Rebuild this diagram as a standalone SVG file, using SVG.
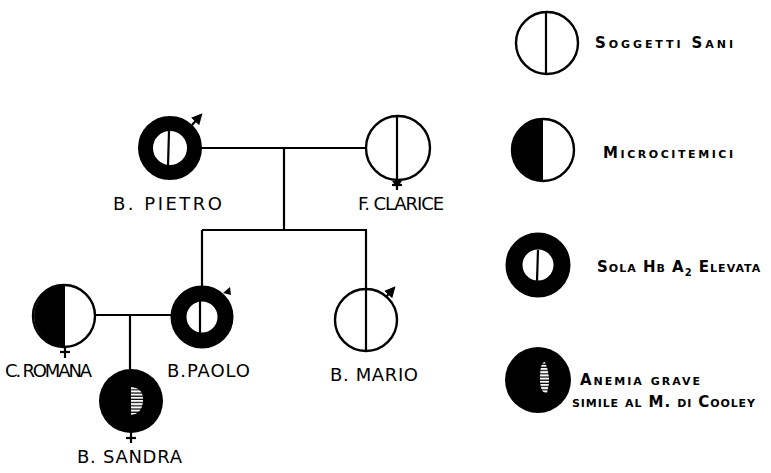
<svg xmlns="http://www.w3.org/2000/svg" width="771" height="473" viewBox="0 0 771 473">
<defs>
<style>
.ln{stroke:#000;stroke-width:2.2;fill:none}
.c{stroke:#000;stroke-width:2.4;fill:#fff}
.ring{stroke:#000;fill:#fff}
.blk{fill:#000}
.lbl{font-family:"DejaVu Sans","Liberation Sans",sans-serif;font-size:18px;fill:#000}
.leg{font-family:"DejaVu Sans","Liberation Sans",sans-serif;font-size:15px;font-weight:bold;fill:#000;font-variant:small-caps}
</style>
<marker id="ah" viewBox="0 0 10 10" refX="8" refY="5" markerWidth="5" markerHeight="5" orient="auto"><path d="M0,0 L10,5 L0,10 z" fill="#000"/></marker>
<pattern id="hatch" width="6" height="3.2" patternUnits="userSpaceOnUse"><rect width="6" height="3.2" fill="#fff"/><rect y="2" width="6" height="1.2" fill="#000"/></pattern>
</defs>
<rect width="771" height="473" fill="#fff"/>
<g id="connectors">
<line class="ln" x1="200" y1="148" x2="367" y2="148"/>
<line class="ln" x1="284" y1="148" x2="284" y2="230"/>
<line class="ln" x1="202" y1="230" x2="367" y2="230"/>
<line class="ln" x1="202" y1="230" x2="202" y2="287"/>
<line class="ln" x1="366" y1="230" x2="366" y2="290"/>
<line class="ln" x1="95" y1="315" x2="172" y2="315"/>
<line class="ln" x1="130" y1="315" x2="130" y2="369"/>
</g>
<g id="pietro">
<circle class="ring" cx="170" cy="148" r="24.5" stroke-width="15"/>
<line class="ln" x1="169" y1="131" x2="168" y2="166"/>
<line class="ln" x1="192" y1="125" x2="201" y2="115" marker-end="url(#ah)"/>
<text class="lbl" x="113" y="210" letter-spacing="2.5">B. PIETRO</text>
</g>
<g id="clarice">
<circle class="c" cx="398" cy="148" r="32"/>
<line class="ln" x1="397" y1="117" x2="397" y2="190"/>
<line class="ln" x1="392" y1="185" x2="402" y2="185"/>
<path d="M392,181 L402,181 L397,188 z" fill="#000"/>
<text class="lbl" x="358" y="210" textLength="86" lengthAdjust="spacing">F. CLARICE</text>
</g>
<g id="romana">
<circle class="c" cx="64" cy="316" r="31"/>
<path class="blk" d="M65,285 A31,31 0 0 0 65,347 z"/>
<line class="ln" x1="65" y1="347" x2="65" y2="358"/>
<line class="ln" x1="60" y1="352" x2="70" y2="352"/>
<text class="lbl" x="5" y="377" textLength="87" lengthAdjust="spacing">C. ROMANA</text>
</g>
<g id="paolo">
<circle class="ring" cx="202" cy="317" r="23.5" stroke-width="16"/>
<line class="ln" x1="200" y1="287" x2="200" y2="333"/>
<path d="M223,293 L230,287 L231,295 z" fill="#000"/>
<text class="lbl" x="167" y="377" textLength="83" lengthAdjust="spacing">B.PAOLO</text>
</g>
<g id="mario">
<circle class="c" cx="366" cy="320" r="31"/>
<line class="ln" x1="366" y1="290" x2="366" y2="351"/>
<line class="ln" x1="386" y1="297" x2="394" y2="288" marker-end="url(#ah)"/>
<text class="lbl" x="330" y="381" textLength="88" lengthAdjust="spacing">B. MARIO</text>
</g>
<g id="sandra">
<circle cx="131" cy="401" r="32" fill="#000"/>
<path d="M131,387 Q144,388 143,401 Q142,414 131,415 z" fill="url(#hatch)"/>
<line class="ln" x1="131" y1="432" x2="131" y2="443"/>
<line class="ln" x1="126" y1="438" x2="136" y2="438"/>
<text class="lbl" x="77" y="463" textLength="105" lengthAdjust="spacing">B. SANDRA</text>
</g>
<g id="legend-sani">
<circle class="c" cx="547" cy="43" r="31"/>
<line class="ln" x1="546" y1="12" x2="546" y2="74"/>
<text class="leg" x="595" y="48" textLength="138" lengthAdjust="spacing">Soggetti Sani</text>
</g>
<g id="legend-micro">
<circle class="c" cx="543" cy="150" r="31"/>
<path class="blk" d="M543,119 A31,31 0 0 0 543,181 z"/>
<text class="leg" x="603" y="158" textLength="130" lengthAdjust="spacing">Microcitemici</text>
</g>
<g id="legend-hba2">
<circle class="ring" cx="538" cy="265" r="24" stroke-width="17"/>
<line class="ln" x1="538" y1="250" x2="537" y2="281"/>
<text class="leg" x="597" y="272" letter-spacing="1">Sola Hb A<tspan font-size="10" dy="4">2</tspan><tspan dy="-4"> Elevata</tspan></text>
</g>
<g id="legend-anemia">
<circle cx="538" cy="380" r="33" fill="#000"/>
<path d="M545,362 Q552,378 547,393 Q540,394 540,378 Q540,362 545,362 z" fill="url(#hatch)"/>
<text class="leg" x="580" y="385" textLength="120" lengthAdjust="spacing">Anemia grave</text>
<text class="leg" x="572" y="407" textLength="183" lengthAdjust="spacing">simile al M. di Cooley</text>
</g>
</svg>
